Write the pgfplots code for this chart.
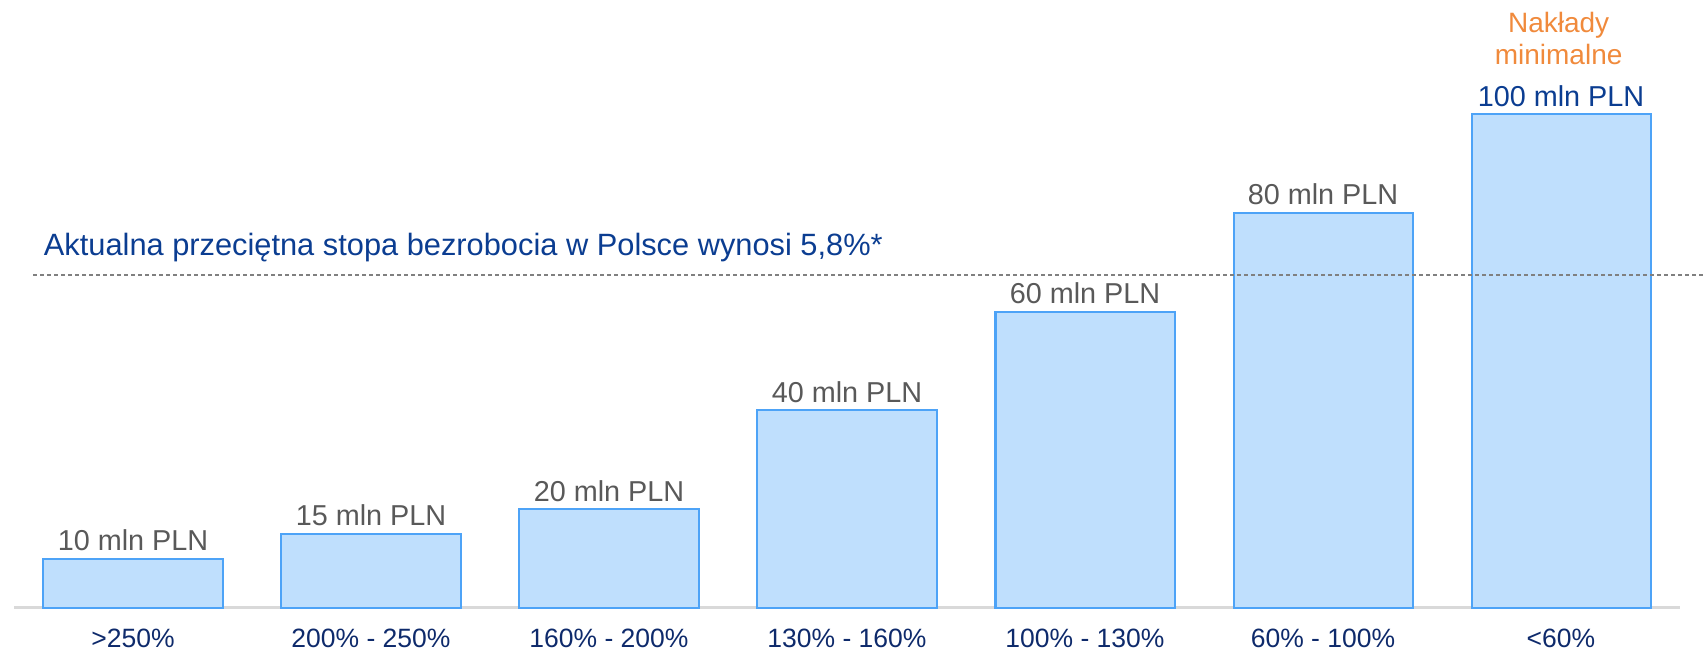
\documentclass[border=0pt]{standalone}
\usepackage{pgfplots}
\pgfplotsset{compat=1.18}
\usepackage{fontspec}
\setmainfont{Liberation Sans}
\definecolor{barfill}{HTML}{BFDFFD}
\definecolor{baredge}{HTML}{4DA3F7}
\definecolor{navy}{HTML}{0E2A6B}
\definecolor{dblue}{HTML}{0B3D91}
\definecolor{lblgray}{HTML}{595959}
\definecolor{orng}{HTML}{F08A3C}
\begin{document}
\begin{tikzpicture}
\useasboundingbox (-7pt,-22pt) rectangle (844.5pt,304pt);
\begin{axis}[
  at={(0,0)}, anchor=south west,
  scale only axis, width=833pt, height=304pt,
  xmin=-0.5, xmax=6.5, ymin=0, ymax=123.08,
  clip=false,
  axis y line=none,
  axis x line*=bottom,
  x axis line style={draw=black!15, line width=1.5pt, -},
  xtick={0,1,2,3,4,5,6},
  xticklabels={>250\%, 200\% - 250\%, 160\% - 200\%, 130\% - 160\%, 100\% - 130\%, 60\% - 100\%, <60\%},
  xticklabel style={anchor=base, yshift=-19.8pt, font=\fontsize{13.25}{15}\selectfont, text=navy},
  major tick length=0pt,
  /pgf/number format/assume math mode=true,
  ybar, bar width=89.5pt,
  nodes near coords={\pgfmathprintnumber{\pgfplotspointmeta} mln PLN},
  every node near coord/.append style={anchor=base, yshift=4pt, inner sep=0pt, font=\fontsize{14.4}{17}\selectfont},
]
\addplot[bar shift=0pt, fill=barfill, draw=baredge, line width=1pt, every node near coord/.append style={text=lblgray}]
  coordinates {(0,10) (1,15) (2,20) (3,40) (4,60) (5,80)};
\addplot[bar shift=0pt, fill=barfill, draw=baredge, line width=1pt, every node near coord/.append style={text=dblue}]
  coordinates {(6,100)};
\draw[gray, line width=0.6pt, dash pattern=on 2pt off 1.5pt] (axis cs:-0.42,67.4) -- (axis cs:6.6,67.4);
\node[anchor=base west, inner sep=0pt, text=dblue, font=\fontsize{15.4}{18}\selectfont] at (axis cs:-0.376,71.26) {Aktualna przeciętna stopa bezrobocia w Polsce wynosi 5,8\%*};
\node[anchor=base, inner sep=0pt, text=orng, font=\fontsize{14}{16}\selectfont] at (axis cs:5.99,116.4) {Nakłady};
\node[anchor=base, inner sep=0pt, text=orng, font=\fontsize{14}{16}\selectfont] at (axis cs:5.99,110.1) {minimalne};
\end{axis}
\end{tikzpicture}
\end{document}
